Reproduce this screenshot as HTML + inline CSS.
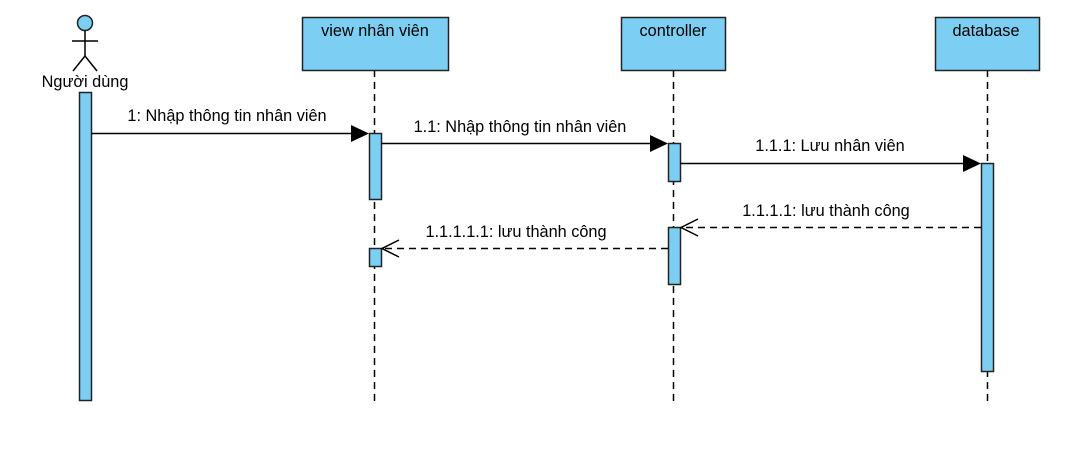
<!DOCTYPE html>
<html><head><meta charset="utf-8"><style>
html,body{margin:0;padding:0;background:#fff;}
svg text{font-family:"Liberation Sans",sans-serif;font-size:16.3px;fill:#000;}
</style></head><body>
<svg width="1078" height="459" viewBox="0 0 1078 459" xmlns="http://www.w3.org/2000/svg">
<g stroke="#000" stroke-width="1.5" fill="none" stroke-dasharray="7,5">
<line x1="374.5" y1="70" x2="374.5" y2="402"/>
<line x1="673.5" y1="70" x2="673.5" y2="402"/>
<line x1="987.5" y1="70" x2="987.5" y2="402"/>
</g>
<g fill="#7ccff3" stroke="#222" stroke-width="1.5">
<rect x="302.5" y="17.5" width="146" height="53"/>
<rect x="621.5" y="17.5" width="104" height="53"/>
<rect x="935.5" y="17.5" width="104" height="53"/>
<circle cx="85" cy="23" r="7.5"/>
<rect x="79.5" y="92.5" width="12" height="308"/>
<rect x="369.5" y="133.5" width="12" height="66"/>
<rect x="369.5" y="248.5" width="12" height="18"/>
<rect x="668.5" y="143.5" width="12" height="38"/>
<rect x="668.5" y="227.5" width="12" height="57"/>
<rect x="981.5" y="163.5" width="12" height="208"/>
</g>
<g stroke="#000" stroke-width="1.5" fill="none">
<line x1="85" y1="31" x2="85" y2="56"/>
<line x1="72" y1="41" x2="98" y2="41"/>
<line x1="85" y1="56" x2="73" y2="71"/>
<line x1="85" y1="56" x2="97" y2="71"/>
<line x1="91" y1="133.5" x2="352" y2="133.5"/>
<line x1="381" y1="143.5" x2="651" y2="143.5"/>
<line x1="680" y1="163.5" x2="964" y2="163.5"/>
<line x1="981" y1="227.5" x2="681" y2="227.5" stroke-dasharray="7,5"/>
<polyline points="698,219 681,227.5 698,236"/>
<line x1="668" y1="248.5" x2="382" y2="248.5" stroke-dasharray="7,5"/>
<polyline points="399,240 382,248.5 399,257"/>
</g>
<g fill="#000">
<polygon points="351,125 369,133.5 351,142"/>
<polygon points="650,135 668,143.5 650,152"/>
<polygon points="963,155 981,163.5 963,172"/>
</g>
<text x="375" y="36" text-anchor="middle">view nhân viên</text>
<text x="673" y="36" text-anchor="middle">controller</text>
<text x="986" y="36" text-anchor="middle">database</text>
<text x="85" y="87" text-anchor="middle">Người dùng</text>
<text x="227" y="121" text-anchor="middle">1: Nhập thông tin nhân viên</text>
<text x="520" y="132" text-anchor="middle">1.1: Nhập thông tin nhân viên</text>
<text x="830" y="151" text-anchor="middle">1.1.1: Lưu nhân viên</text>
<text x="826" y="216" text-anchor="middle">1.1.1.1: lưu thành công</text>
<text x="516" y="237" text-anchor="middle">1.1.1.1.1: lưu thành công</text>
</svg>
</body></html>
